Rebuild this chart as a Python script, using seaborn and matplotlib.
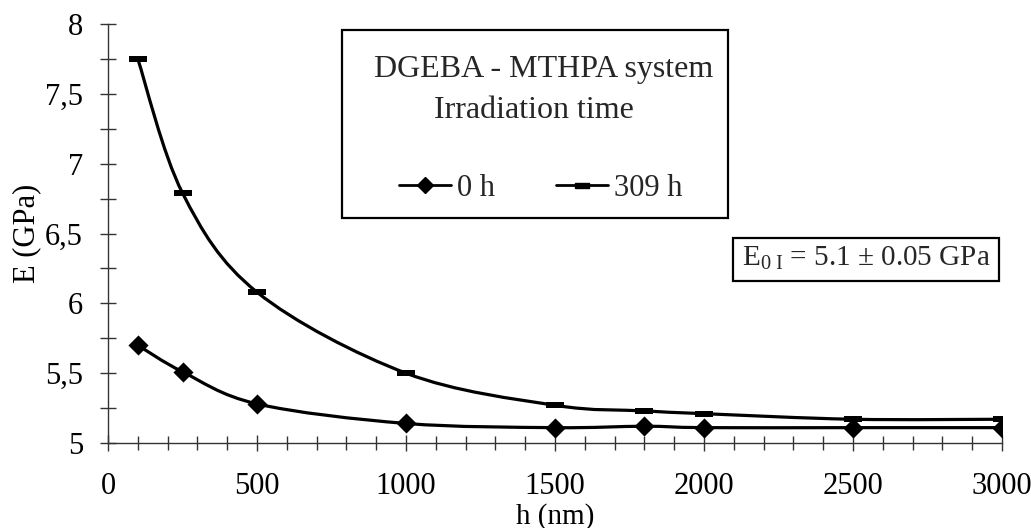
import numpy as np
import pandas as pd
import matplotlib
matplotlib.use("Agg")
import matplotlib.pyplot as plt
from matplotlib.path import Path
from matplotlib.patches import PathPatch, Rectangle
from matplotlib.lines import Line2D
from matplotlib.ticker import MultipleLocator, FixedLocator, FixedFormatter
import seaborn as sns

# ---- data ----
h_nm = [100, 250, 500, 1000, 1500, 1800, 2000, 2500, 3000]
E_0h = [5.70, 5.51, 5.28, 5.14, 5.11, 5.12, 5.11, 5.11, 5.11]
E_309h = [7.75, 6.79, 6.08, 5.50, 5.27, 5.23, 5.21, 5.17, 5.17]
series_names = ["0 h", "309 h"]
xtick_values = [0, 500, 1000, 1500, 2000, 2500, 3000]
xtick_labels = ["0", "500", "1000", "1500", "2000", "2500", "3000"]
ytick_values = [5, 5.5, 6, 6.5, 7, 7.5, 8]
ytick_labels = ["5", "5,5", "6", "6,5", "7", "7,5", "8"]
title_lines = ["DGEBA - MTHPA system", "Irradiation time"]
note_text = r"E$_{\mathrm{0\ I}}$ = 5.1 ± 0.05 GPa"

df = pd.DataFrame({"h": h_nm * 2,
                   "E": E_0h + E_309h,
                   "series": [series_names[0]] * len(h_nm) + [series_names[1]] * len(h_nm)})

sns.set_theme(style="ticks")
plt.rcParams["font.family"] = ["Liberation Serif", "DejaVu Serif"]
plt.rcParams["mathtext.fontset"] = "custom"
plt.rcParams["mathtext.rm"] = "Liberation Serif"
plt.rcParams["mathtext.it"] = "Liberation Serif:italic"

W, H = 1031, 528
fig = plt.figure(figsize=(W / 100, H / 100), dpi=100)
ax = fig.add_axes([108 / W, 1 - 443 / H, (1002 - 108) / W, (443 - 24) / H])


def smooth_path(xs, ys):
    """Catmull-Rom style cubic Bezier path through the data points."""
    pts = np.column_stack([xs, ys]).astype(float)
    n = len(pts)
    verts = [tuple(pts[0])]
    codes = [Path.MOVETO]
    for i in range(n - 1):
        p0 = pts[i - 1] if i > 0 else pts[i]
        p1 = pts[i]
        p2 = pts[i + 1]
        p3 = pts[i + 2] if i + 2 < n else pts[i + 1]
        c1 = p1 + (p2 - p0) / 6.0
        c2 = p2 - (p3 - p1) / 6.0
        verts += [tuple(c1), tuple(c2), tuple(p2)]
        codes += [Path.CURVE4] * 3
    return Path(verts, codes)


for ys in (E_0h, E_309h):
    ax.add_patch(PathPatch(smooth_path(h_nm, ys), facecolor="none",
                           edgecolor="black", lw=2.3, zorder=2))

bar_marker = [(-1, -0.36), (1, -0.36), (1, 0.36), (-1, 0.36), (-1, -0.36)]
sns.scatterplot(data=df[df.series == series_names[0]], x="h", y="E", marker="D",
                color="black", s=105, edgecolor="black", linewidth=0, ax=ax,
                zorder=3, legend=False)
sns.scatterplot(data=df[df.series == series_names[1]], x="h", y="E", marker=bar_marker,
                color="black", s=150, edgecolor="black", linewidth=0, ax=ax,
                zorder=3, legend=False)

ax.set_xlim(0, 3000)
ax.set_ylim(5, 8)
ax.xaxis.set_major_locator(FixedLocator(xtick_values))
ax.xaxis.set_major_formatter(FixedFormatter(xtick_labels))
ax.xaxis.set_minor_locator(MultipleLocator(100))
ax.yaxis.set_major_locator(FixedLocator(ytick_values))
ax.yaxis.set_major_formatter(FixedFormatter(ytick_labels))
ax.yaxis.set_minor_locator(MultipleLocator(0.25))

for s in ("top", "right"):
    ax.spines[s].set_visible(False)
for s in ("left", "bottom"):
    ax.spines[s].set_color("#333333")
    ax.spines[s].set_linewidth(1.0)

ax.tick_params(axis="x", which="major", direction="inout", length=12, width=1,
               color="#333333", pad=15, labelsize=22, labelcolor="black")
ax.tick_params(axis="x", which="minor", direction="inout", length=10, width=1,
               color="#333333")
ax.tick_params(axis="y", which="both", direction="inout", length=12, width=1,
               color="#333333")
ax.tick_params(axis="y", which="major", pad=12, labelsize=22, labelcolor="black")

ax.set_xlabel("h (nm)", fontsize=21, color="black", va="baseline")
ax.xaxis.set_label_coords(0.5, (443 - 524) / 419)
ax.set_ylabel("E (GPa)", fontsize=22, color="black", va="center")
ax.yaxis.set_label_coords(-(108 - 27) / 894, 0.5)
ax.set_facecolor("white")
fig.patch.set_facecolor("white")

# legend box
fig.patches.append(Rectangle((342 / W, 1 - 218 / H), (728 - 342) / W, (218 - 30) / H,
                             transform=fig.transFigure, facecolor="white",
                             edgecolor="black", lw=1.6, zorder=5))
fig.text(544 / W, 1 - 77 / H, title_lines[0], ha="center", va="baseline", fontsize=23, zorder=6)
fig.text(534 / W, 1 - 118 / H, title_lines[1], ha="center", va="baseline", fontsize=23, zorder=6)
handles = [
    Line2D([], [], color="black", lw=2, marker="D", markersize=8, label=series_names[0]),
    Line2D([], [], color="black", lw=2, marker=bar_marker, markersize=10, label=series_names[1]),
]
leg = fig.legend(handles=handles, ncol=2, frameon=False, loc="center",
                 bbox_to_anchor=(541 / W, 1 - 188 / H), bbox_transform=fig.transFigure,
                 fontsize=22, handlelength=1.7, handletextpad=0.2, columnspacing=2.0,
                 borderpad=0, borderaxespad=0)
leg.set_zorder(7)

# note box
fig.patches.append(Rectangle((733 / W, 1 - 281 / H), (999 - 733) / W, (281 - 238) / H,
                             transform=fig.transFigure, facecolor="white",
                             edgecolor="black", lw=1.6, zorder=5))
fig.text(866 / W, 1 - 266 / H, note_text, ha="center", va="baseline", fontsize=21, zorder=6)

fig.savefig("out.png", dpi=100)
